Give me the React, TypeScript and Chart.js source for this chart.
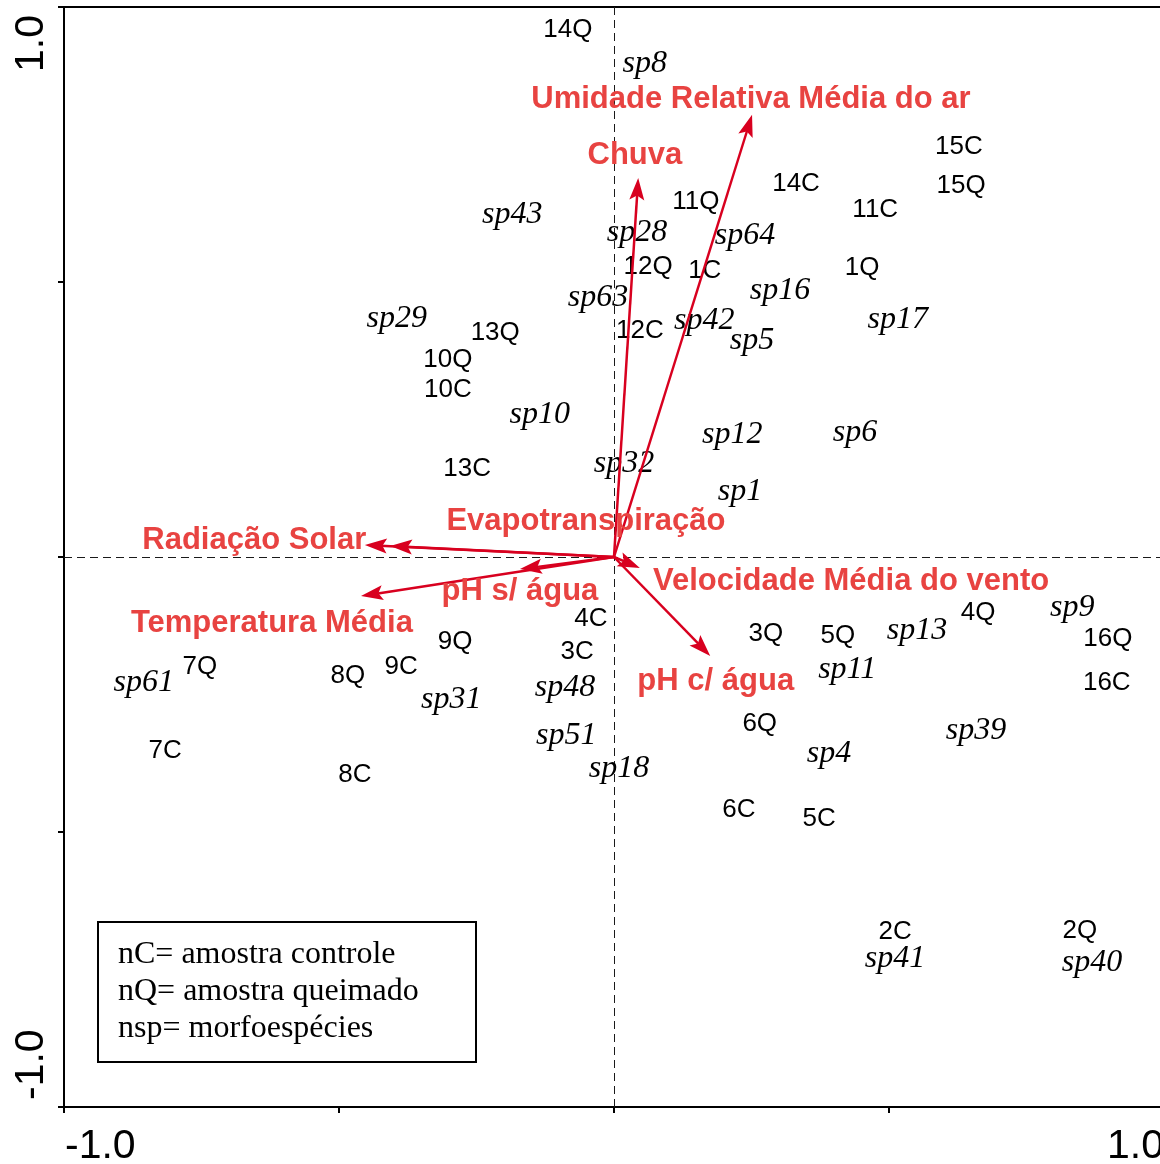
import React, { useEffect, useRef } from "react";
import { Chart, registerables } from "chart.js";

Chart.register(...registerables);

// Sample scores (nC = control, nQ = burned)
const sampleLabels = ["14Q","15C","15Q","14C","11Q","11C","12Q","1C","1Q","13Q","12C","10Q","10C","13C","4C","4Q","3Q","5Q","16Q","9Q","3C","7Q","9C","8Q","16C","6Q","7C","8C","6C","5C","2C","2Q"];
const sampleX = [-0.084,0.627,0.631,0.331,0.149,0.475,0.062,0.165,0.451,-0.216,0.047,-0.302,-0.302,-0.267,-0.042,0.662,0.276,0.407,0.898,-0.289,-0.067,-0.753,-0.387,-0.484,0.896,0.265,-0.816,-0.471,0.227,0.373,0.511,0.847];
const sampleY = [0.962,0.749,0.678,0.682,0.649,0.635,0.531,0.525,0.529,0.411,0.415,0.362,0.307,0.165,-0.109,-0.098,-0.136,-0.140,-0.145,-0.151,-0.169,-0.196,-0.195,-0.213,-0.224,-0.300,-0.349,-0.393,-0.455,-0.473,-0.678,-0.675];

// Species scores (morphospecies)
const speciesLabels = ["sp8","sp43","sp28","sp64","sp63","sp16","sp29","sp42","sp17","sp5","sp10","sp12","sp6","sp32","sp1","sp9","sp13","sp11","sp61","sp48","sp31","sp51","sp39","sp4","sp18","sp41","sp40"];
const speciesX = [0.056,-0.185,0.042,0.238,-0.029,0.302,-0.395,0.164,0.516,0.251,-0.135,0.215,0.438,0.018,0.229,0.833,0.551,0.424,-0.855,-0.089,-0.296,-0.087,0.658,0.391,0.009,0.511,0.869];
const speciesY = [0.900,0.625,0.593,0.587,0.475,0.487,0.436,0.433,0.435,0.396,0.262,0.225,0.229,0.173,0.122,-0.089,-0.131,-0.202,-0.225,-0.235,-0.256,-0.322,-0.313,-0.355,-0.382,-0.727,-0.735];

// Environmental variables (arrow tips and label positions)
const envLabels = ["Umidade Relativa Média do ar","Chuva","Evapotranspiração","Radiação Solar","pH s/ água","Temperatura Média","Velocidade Média do vento","pH c/ água"];
const envX = [0.251,0.044,-0.407,-0.453,-0.171,-0.460,0.047,0.175];
const envY = [0.804,0.689,0.020,0.022,-0.022,-0.071,-0.020,-0.180];
const envLabelX = [0.249,0.038,-0.051,-0.654,-0.171,-0.622,0.431,0.185];
const envLabelY = [0.836,0.735,0.069,0.035,-0.058,-0.116,-0.040,-0.222];

const axisMin = -1;
const axisMax = 1;
const axisStep = 0.5;
const endTickLabels = ["-1.0", "1.0"];

const legendLines = ["nC= amostra controle", "nQ= amostra queimado", "nsp= morfoespécies"];

const ARROW_COLOR = "#D8001F";
const LABEL_RED = "#E84341";
const SANS = '"Liberation Sans", Arial, sans-serif';
const SERIF = '"Liberation Serif", "Times New Roman", serif';

function drawArrow(ctx: CanvasRenderingContext2D, x0: number, y0: number, x1: number, y1: number) {
  const ang = Math.atan2(y1 - y0, x1 - x0);
  const len = 22;
  const half = 7.5;
  ctx.save();
  ctx.strokeStyle = ARROW_COLOR;
  ctx.fillStyle = ARROW_COLOR;
  ctx.lineWidth = 2.5;
  ctx.beginPath();
  ctx.moveTo(x0, y0);
  ctx.lineTo(x1 - Math.cos(ang) * len * 0.7, y1 - Math.sin(ang) * len * 0.7);
  ctx.stroke();
  ctx.translate(x1, y1);
  ctx.rotate(ang);
  ctx.beginPath();
  ctx.moveTo(0, 0);
  ctx.lineTo(-len, -half);
  ctx.lineTo(-len * 0.8, 0);
  ctx.lineTo(-len, half);
  ctx.closePath();
  ctx.fill();
  ctx.restore();
}

const biplotPlugin = {
  id: "biplot",
  beforeDatasetsDraw(chart: any) {
    const { ctx, chartArea, scales } = chart;
    const xs = scales.x, ys = scales.y;
    ctx.save();
    // top frame line
    ctx.strokeStyle = "#000";
    ctx.lineWidth = 2;
    ctx.beginPath();
    ctx.moveTo(chartArea.left - 6, ys.getPixelForValue(axisMax));
    ctx.lineTo(chartArea.right, ys.getPixelForValue(axisMax));
    ctx.stroke();
    // dashed zero lines
    ctx.strokeStyle = "#1a1a1a";
    ctx.lineWidth = 1;
    ctx.setLineDash([8, 5]);
    const x0 = Math.round(xs.getPixelForValue(0)) + 0.5;
    const y0 = Math.round(ys.getPixelForValue(0)) + 0.5;
    ctx.beginPath();
    ctx.moveTo(x0, chartArea.top);
    ctx.lineTo(x0, chartArea.bottom);
    ctx.moveTo(chartArea.left, y0);
    ctx.lineTo(chartArea.right, y0);
    ctx.stroke();
    ctx.restore();
  },
  afterDatasetsDraw(chart: any) {
    const { ctx, chartArea, scales } = chart;
    const xs = scales.x, ys = scales.y;
    const ox = xs.getPixelForValue(0);
    const oy = ys.getPixelForValue(0);

    // sample labels
    ctx.save();
    ctx.fillStyle = "#000";
    ctx.textAlign = "center";
    ctx.textBaseline = "alphabetic";
    ctx.font = `26px ${SANS}`;
    const sMeta = chart.getDatasetMeta(0);
    sMeta.data.forEach((pt: any, i: number) => {
      ctx.fillText(sampleLabels[i], pt.x, pt.y + 26 * 0.358);
    });
    // species labels
    ctx.font = `italic 32px ${SERIF}`;
    const pMeta = chart.getDatasetMeta(1);
    pMeta.data.forEach((pt: any, i: number) => {
      ctx.fillText(speciesLabels[i], pt.x, pt.y + 32 * 0.23 + 2.5);
    });
    ctx.restore();

    // arrows
    envLabels.forEach((_, i) => {
      drawArrow(ctx, ox, oy, xs.getPixelForValue(envX[i]), ys.getPixelForValue(envY[i]));
    });

    // env labels
    ctx.save();
    ctx.fillStyle = LABEL_RED;
    ctx.textAlign = "center";
    ctx.textBaseline = "alphabetic";
    ctx.font = `bold 31px ${SANS}`;
    envLabels.forEach((lab, i) => {
      ctx.fillText(lab, xs.getPixelForValue(envLabelX[i]), ys.getPixelForValue(envLabelY[i]) + 31 * 0.358);
    });
    ctx.restore();

    // legend box
    ctx.save();
    const bx = chartArea.left + 34, by = chartArea.bottom - 185, bw = 378, bh = 140;
    ctx.fillStyle = "#fff";
    ctx.fillRect(bx, by, bw, bh);
    ctx.strokeStyle = "#000";
    ctx.lineWidth = 2;
    ctx.strokeRect(bx, by, bw, bh);
    ctx.fillStyle = "#000";
    ctx.font = `32px ${SERIF}`;
    ctx.textAlign = "left";
    ctx.textBaseline = "alphabetic";
    legendLines.forEach((t, i) => {
      ctx.fillText(t, bx + 20, by + 41 + i * 37);
    });
    ctx.restore();

    // axis end labels
    ctx.save();
    ctx.fillStyle = "#000";
    ctx.font = `41px ${SANS}`;
    ctx.textBaseline = "alphabetic";
    const xl = xs.getPixelForValue(axisMin);
    const xr = xs.getPixelForValue(axisMax);
    const baseY = chartArea.bottom + 51;
    ctx.textAlign = "left";
    ctx.fillText(endTickLabels[0], xl + 1, baseY);
    ctx.textAlign = "right";
    ctx.fillText(endTickLabels[1], xr, baseY);
    // y labels rotated
    const yt = ys.getPixelForValue(axisMax);
    const yb = ys.getPixelForValue(axisMin);
    ctx.save();
    ctx.translate(chartArea.left - 21, yt + 8);
    ctx.rotate(-Math.PI / 2);
    ctx.textAlign = "right";
    ctx.fillText(endTickLabels[1], 0, 0);
    ctx.restore();
    ctx.save();
    ctx.translate(chartArea.left - 21, yb - 7);
    ctx.rotate(-Math.PI / 2);
    ctx.textAlign = "left";
    ctx.fillText(endTickLabels[0], 0, 0);
    ctx.restore();
    ctx.restore();
  },
};

export default function App() {
  const ref = useRef<HTMLCanvasElement | null>(null);
  useEffect(() => {
    if (!ref.current) return;
    const chart = new Chart(ref.current, {
      type: "scatter",
      data: {
        datasets: [
          {
            label: "amostras",
            data: sampleX.map((x, i) => ({ x, y: sampleY[i] })),
            pointRadius: 0,
            pointHoverRadius: 0,
          },
          {
            label: "morfoespécies",
            data: speciesX.map((x, i) => ({ x, y: speciesY[i] })),
            pointRadius: 0,
            pointHoverRadius: 0,
          },
        ],
      },
      options: {
        animation: false,
        responsive: false,
        events: [],
        layout: { padding: { top: 7, right: 16, left: 0, bottom: 0 } },
        plugins: { legend: { display: false }, tooltip: { enabled: false } },
        scales: {
          x: {
            type: "linear",
            min: axisMin,
            max: axisMax,
            ticks: { display: false, stepSize: axisStep },
            grid: { display: true, drawOnChartArea: false, drawTicks: true, tickLength: 6, color: "#000", lineWidth: 2 },
            border: { display: true, color: "#000", width: 2 },
            afterFit: (s: any) => { s.height = 57; },
          },
          y: {
            type: "linear",
            min: axisMin,
            max: axisMax,
            ticks: { display: false, stepSize: axisStep },
            grid: { display: true, drawOnChartArea: false, drawTicks: true, tickLength: 6, color: "#000", lineWidth: 2 },
            border: { display: true, color: "#000", width: 2 },
            afterFit: (s: any) => { s.width = 64; },
          },
        },
      },
      plugins: [biplotPlugin],
    });
    return () => chart.destroy();
  }, []);
  return (
    <div style={{ position: "fixed", left: 0, top: 0, width: 1180, height: 1164, overflow: "hidden", background: "#fff" }}>
      <canvas ref={ref} width={1180} height={1164} style={{ width: 1180, height: 1164, display: "block" }} />
    </div>
  );
}
